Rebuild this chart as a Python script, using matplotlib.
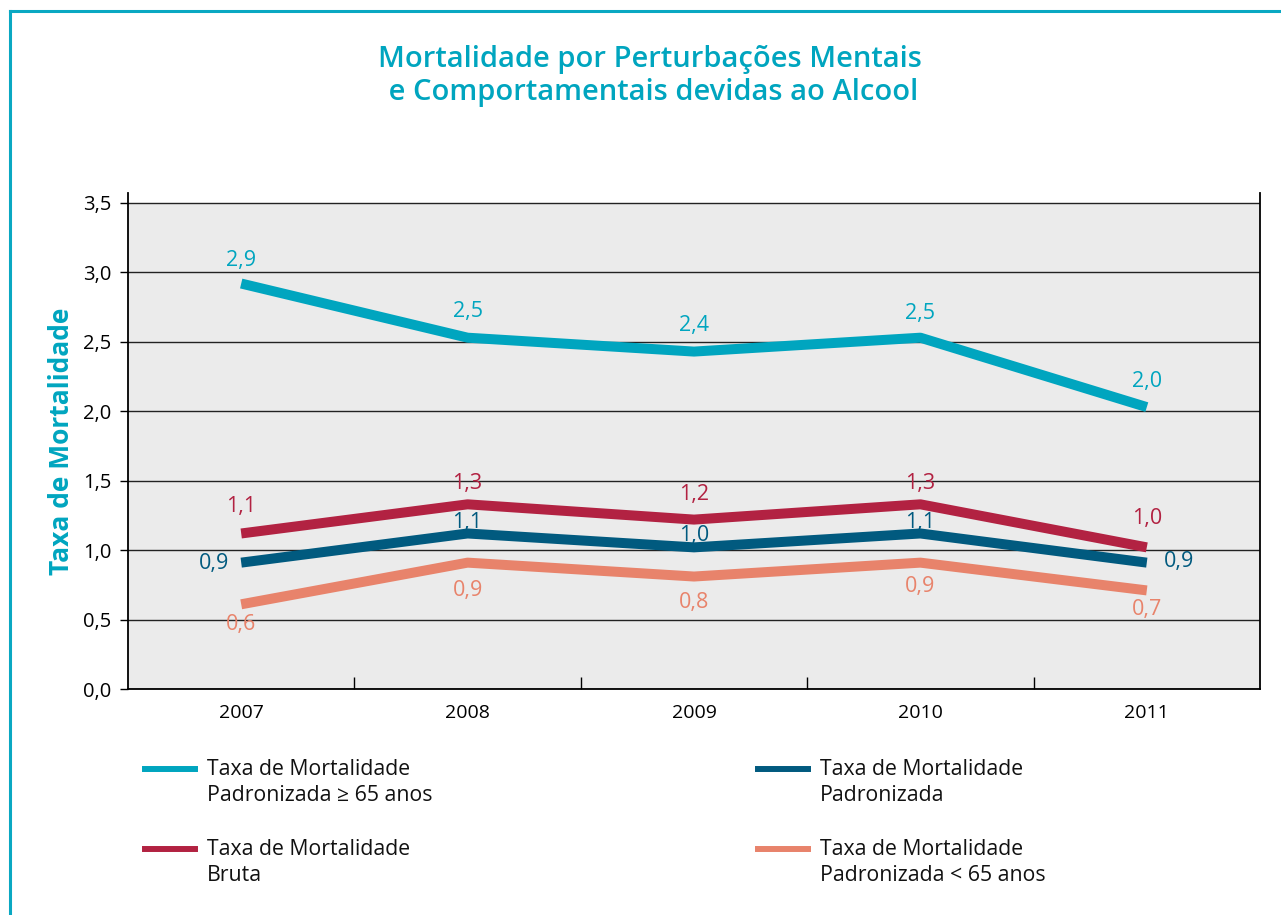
import matplotlib
matplotlib.use("Agg")
import matplotlib.pyplot as plt
from matplotlib.lines import Line2D
from matplotlib.ticker import FixedLocator

plt.rcParams['font.family'] = ['Open Sans', 'DejaVu Sans']

# data
years = ['2007', '2008', '2009', '2010', '2011']
taxa_65_mais = [2.92, 2.53, 2.43, 2.53, 2.03]
taxa_bruta = [1.12, 1.33, 1.22, 1.33, 1.02]
taxa_padronizada = [0.91, 1.12, 1.02, 1.12, 0.91]
taxa_65_menos = [0.61, 0.91, 0.81, 0.91, 0.71]
y_ticks = [0.0, 0.5, 1.0, 1.5, 2.0, 2.5, 3.0, 3.5]

teal = '#00A5BF'
crimson = '#B22242'
navy = '#015A7F'
salmon = '#E8836B'

series = [
    (taxa_65_mais, teal, 'Taxa de Mortalidade\nPadronizada ≥ 65 anos'),
    (taxa_bruta, crimson, 'Taxa de Mortalidade\nBruta'),
    (taxa_padronizada, navy, 'Taxa de Mortalidade\nPadronizada'),
    (taxa_65_menos, salmon, 'Taxa de Mortalidade\nPadronizada < 65 anos'),
]

# label offsets in pixels (dx, dy) for each point
offsets = [
    [(0, 23), (0, 26), (0, 26), (0, 24), (0, 26)],
    [(0, 27), (0, 21), (0, 25), (0, 21), (0, 29)],
    [(-27, -1), (0, 11), (0, 12), (0, 11), (32, 1)],
    [(0, -20), (0, -28), (0, -26), (0, -24), (0, -19)],
]

fig = plt.figure(figsize=(12.81, 9.15), dpi=100)
ax = fig.add_axes([128 / 1281, 1 - 689 / 915, (1260 - 128) / 1281, (689 - 193) / 915])
ax.set_facecolor('white')
ax.axhspan(0, y_ticks[-1], color='#EBEBEB', zorder=0, lw=0)

x = list(range(len(years)))
for (vals, col, lab), offs in zip(series, offsets):
    ax.plot(x, vals, color=col, lw=7.2, solid_capstyle='butt', zorder=3)
    for xi, v, (dx, dy) in zip(x, vals, offs):
        ax.annotate(f'{v:.1f}'.replace('.', ','), (xi, v), xytext=(dx, dy),
                    textcoords='offset pixels', ha='center', va='center',
                    color=col, fontsize=15.5, zorder=4)

ax.set_xlim(-0.5, len(years) - 0.5)
ax.set_ylim(0, 3.572)
ax.set_yticks(y_ticks)
ax.set_yticklabels([f'{t:.1f}'.replace('.', ',') for t in y_ticks], fontsize=14.5)
ax.yaxis.grid(True, color='#222222', lw=1.0, zorder=1)
ax.set_axisbelow(True)
ax.set_xticks(x)
ax.set_xticklabels(years, fontsize=14)
ax.xaxis.set_minor_locator(FixedLocator([i + 0.5 for i in x[:-1]]))
ax.tick_params(axis='x', which='major', length=0, pad=11)
ax.tick_params(axis='x', which='minor', direction='in', length=8.5, width=1, color='black')
ax.tick_params(axis='y', direction='out', length=6, width=1, pad=6)

ax.spines['top'].set_visible(False)
for s in ['left', 'right', 'bottom']:
    ax.spines[s].set_linewidth(1.3)
    ax.spines[s].set_color('black')

fig.text(62 / 1281, 1 - 441 / 915, 'Taxa de Mortalidade', rotation=90, color=teal,
         fontsize=19, fontweight='bold', ha='center', va='center')

fig.text(650 / 1281, 1 - 76 / 915,
         'Mortalidade por Perturbações Mentais\n e Comportamentais devidas ao Alcool',
         color=teal, fontsize=21, fontweight='semibold', ha='center', va='center',
         linespacing=1.2)

# teal frame lines
fy = 1 - 11 / 915
fx = 10 / 1281
fig.add_artist(Line2D([fx, 1], [fy, fy], transform=fig.transFigure, color='#0AA8C2', lw=2.2))
fig.add_artist(Line2D([fx, fx], [0, fy], transform=fig.transFigure, color='#0AA8C2', lw=2.2))

# legend drawn by hand: handle aligned to first text line
legend_pos = [(145, 769), (145, 849), (758, 769), (758, 849)]
for (vals, col, lab), (lx, ly) in zip(series, legend_pos):
    yy = 1 - ly / 915
    fig.add_artist(Line2D([lx / 1281, (lx + 50) / 1281], [yy, yy],
                          transform=fig.transFigure, color=col, lw=4.3))
    fig.text((lx + 62) / 1281, 1 - (ly - 10) / 915, lab, fontsize=15.3,
             ha='left', va='top', color='#111111', linespacing=1.3)

fig.savefig('out.png', dpi=100)
